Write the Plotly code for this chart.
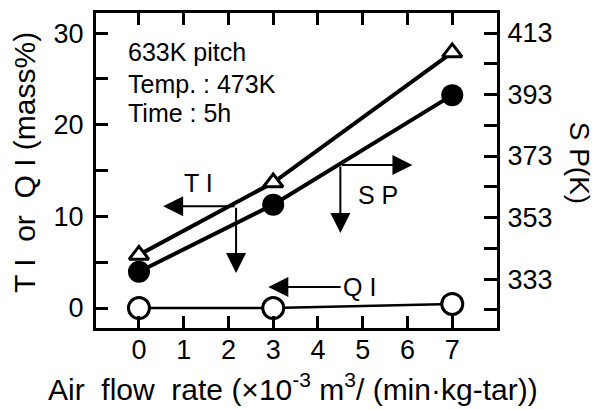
import plotly.graph_objects as go

air_flow = [0, 3, 7]
ti_vals = [5.8, 13.7, 27.9]
qi_vals = [0.0, 0.0, 0.45]
sp_vals = [335.4, 357.2, 392.8]

x_ticks = [0, 1, 2, 3, 4, 5, 6, 7]
left_tickvals = [0, 5, 10, 15, 20, 25, 30]
left_ticktext = ["0", "", "10", "", "20", "", "30"]
right_tickvals = [323, 333, 343, 353, 363, 373, 383, 393, 403, 413]
right_ticktext = ["", "333", "", "353", "", "373", "", "393", "", "413"]

FONT = "Liberation Sans, Arial, sans-serif"
BLK = "black"

fig = go.Figure()

fig.add_trace(go.Scatter(
    x=air_flow, y=qi_vals, mode="lines+markers", name="QI",
    line=dict(color=BLK, width=2.5),
    marker=dict(symbol="circle", size=21, color="white", line=dict(color=BLK, width=3)),
    cliponaxis=False,
))
fig.add_trace(go.Scatter(
    x=air_flow, y=ti_vals, mode="lines+markers", name="TI",
    line=dict(color=BLK, width=4),
    marker=dict(symbol="triangle-up", size=17, color="white", line=dict(color=BLK, width=3)),
    cliponaxis=False,
))
fig.add_trace(go.Scatter(
    x=air_flow, y=sp_vals, mode="lines+markers", name="SP", yaxis="y2",
    line=dict(color=BLK, width=4),
    marker=dict(symbol="circle", size=22, color=BLK),
    cliponaxis=False,
))

tickfont = dict(family=FONT, size=27, color=BLK)

# page body has an 8px default margin, so the figure is sized to fit the window
fig.update_layout(
    width=592, height=401,
    margin=dict(l=88, r=103, t=5, b=81, autoexpand=False),
    paper_bgcolor="white", plot_bgcolor="white",
    showlegend=False,
    xaxis=dict(
        range=[-0.96, 8.0], tickvals=x_ticks, ticks="inside", ticklen=12, tickwidth=2.5,
        tickcolor=BLK, showline=True, linecolor=BLK, linewidth=3, mirror="ticks",
        showgrid=False, zeroline=False, tickfont=tickfont, ticklabelstandoff=-4,
        automargin=False,
    ),
    yaxis=dict(
        range=[-2.18, 32.2], tickvals=left_tickvals, ticktext=left_ticktext,
        ticks="inside", ticklen=12, tickwidth=2.5, tickcolor=BLK,
        showline=True, linecolor=BLK, linewidth=3, showgrid=False, zeroline=False,
        tickfont=tickfont, ticklabelstandoff=4, automargin=False,
    ),
    yaxis2=dict(
        range=[317.1, 419.5], overlaying="y", side="right",
        tickvals=right_tickvals, ticktext=right_ticktext,
        ticks="inside", ticklen=13, tickwidth=2.5, tickcolor=BLK,
        showline=True, linecolor=BLK, linewidth=3, showgrid=False, zeroline=False,
        tickfont=tickfont, ticklabelstandoff=2, automargin=False,
    ),
)

ann = []
# condition text
for txt, yv in [("633K pitch", 27.9), ("Temp. : 473K", 24.4), ("Time : 5h", 21.3)]:
    ann.append(dict(x=-0.29, y=yv, xref="x", yref="y", text=txt, showarrow=False,
                    xanchor="left", yanchor="middle", font=dict(family=FONT, size=25, color=BLK)))

# arrows
arrow_common = dict(showarrow=True, arrowhead=2, arrowsize=2.0, arrowwidth=2,
                    arrowcolor=BLK, text="", axref="x", ayref="y", xref="x", yref="y")
ann.append(dict(x=0.54, y=11.12, ax=2.17, ay=11.12, **arrow_common))
ann.append(dict(x=2.17, y=3.82, ax=2.17, ay=11.12, **arrow_common))
ann.append(dict(x=4.5, y=8.18, ax=4.5, ay=15.6, **arrow_common))
ann.append(dict(x=6.11, y=15.6, ax=4.5, ay=15.6, **arrow_common))
ann.append(dict(x=2.89, y=2.29, ax=4.54, ay=2.29, **arrow_common))

lab_font = dict(family=FONT, size=25, color=BLK)
ann.append(dict(x=1.32, y=13.6, xref="x", yref="y", text="T I", showarrow=False,
                xanchor="center", yanchor="middle", font=lab_font))
ann.append(dict(x=5.35, y=12.3, xref="x", yref="y", text="S P", showarrow=False,
                xanchor="center", yanchor="middle", font=lab_font))
ann.append(dict(x=4.52, y=2.29, xref="x", yref="y", text="Q I", showarrow=False,
                xanchor="left", yanchor="middle", font=lab_font))

# axis titles
title_font = dict(family=FONT, size=30, color=BLK)
ann.append(dict(x=-0.177, y=0.524, xref="paper", yref="paper", text="T I  or  Q I (mass%)",
                showarrow=False, textangle=-90, xanchor="center", yanchor="middle",
                font=title_font))
ann.append(dict(x=1.205, y=0.524, xref="paper", yref="paper", text="S P(K)",
                showarrow=False, textangle=90, xanchor="center", yanchor="middle",
                font=dict(family=FONT, size=28, color=BLK)))
ann.append(dict(x=0.491, y=-0.254, xref="paper", yref="paper",
                text="Air  flow  rate (×10<sup>-3</sup> m<sup>3</sup>/ (min·kg-tar))",
                showarrow=False, xanchor="center", yanchor="bottom", font=title_font))

fig.update_layout(annotations=ann)

fig.write_html("out.html")
